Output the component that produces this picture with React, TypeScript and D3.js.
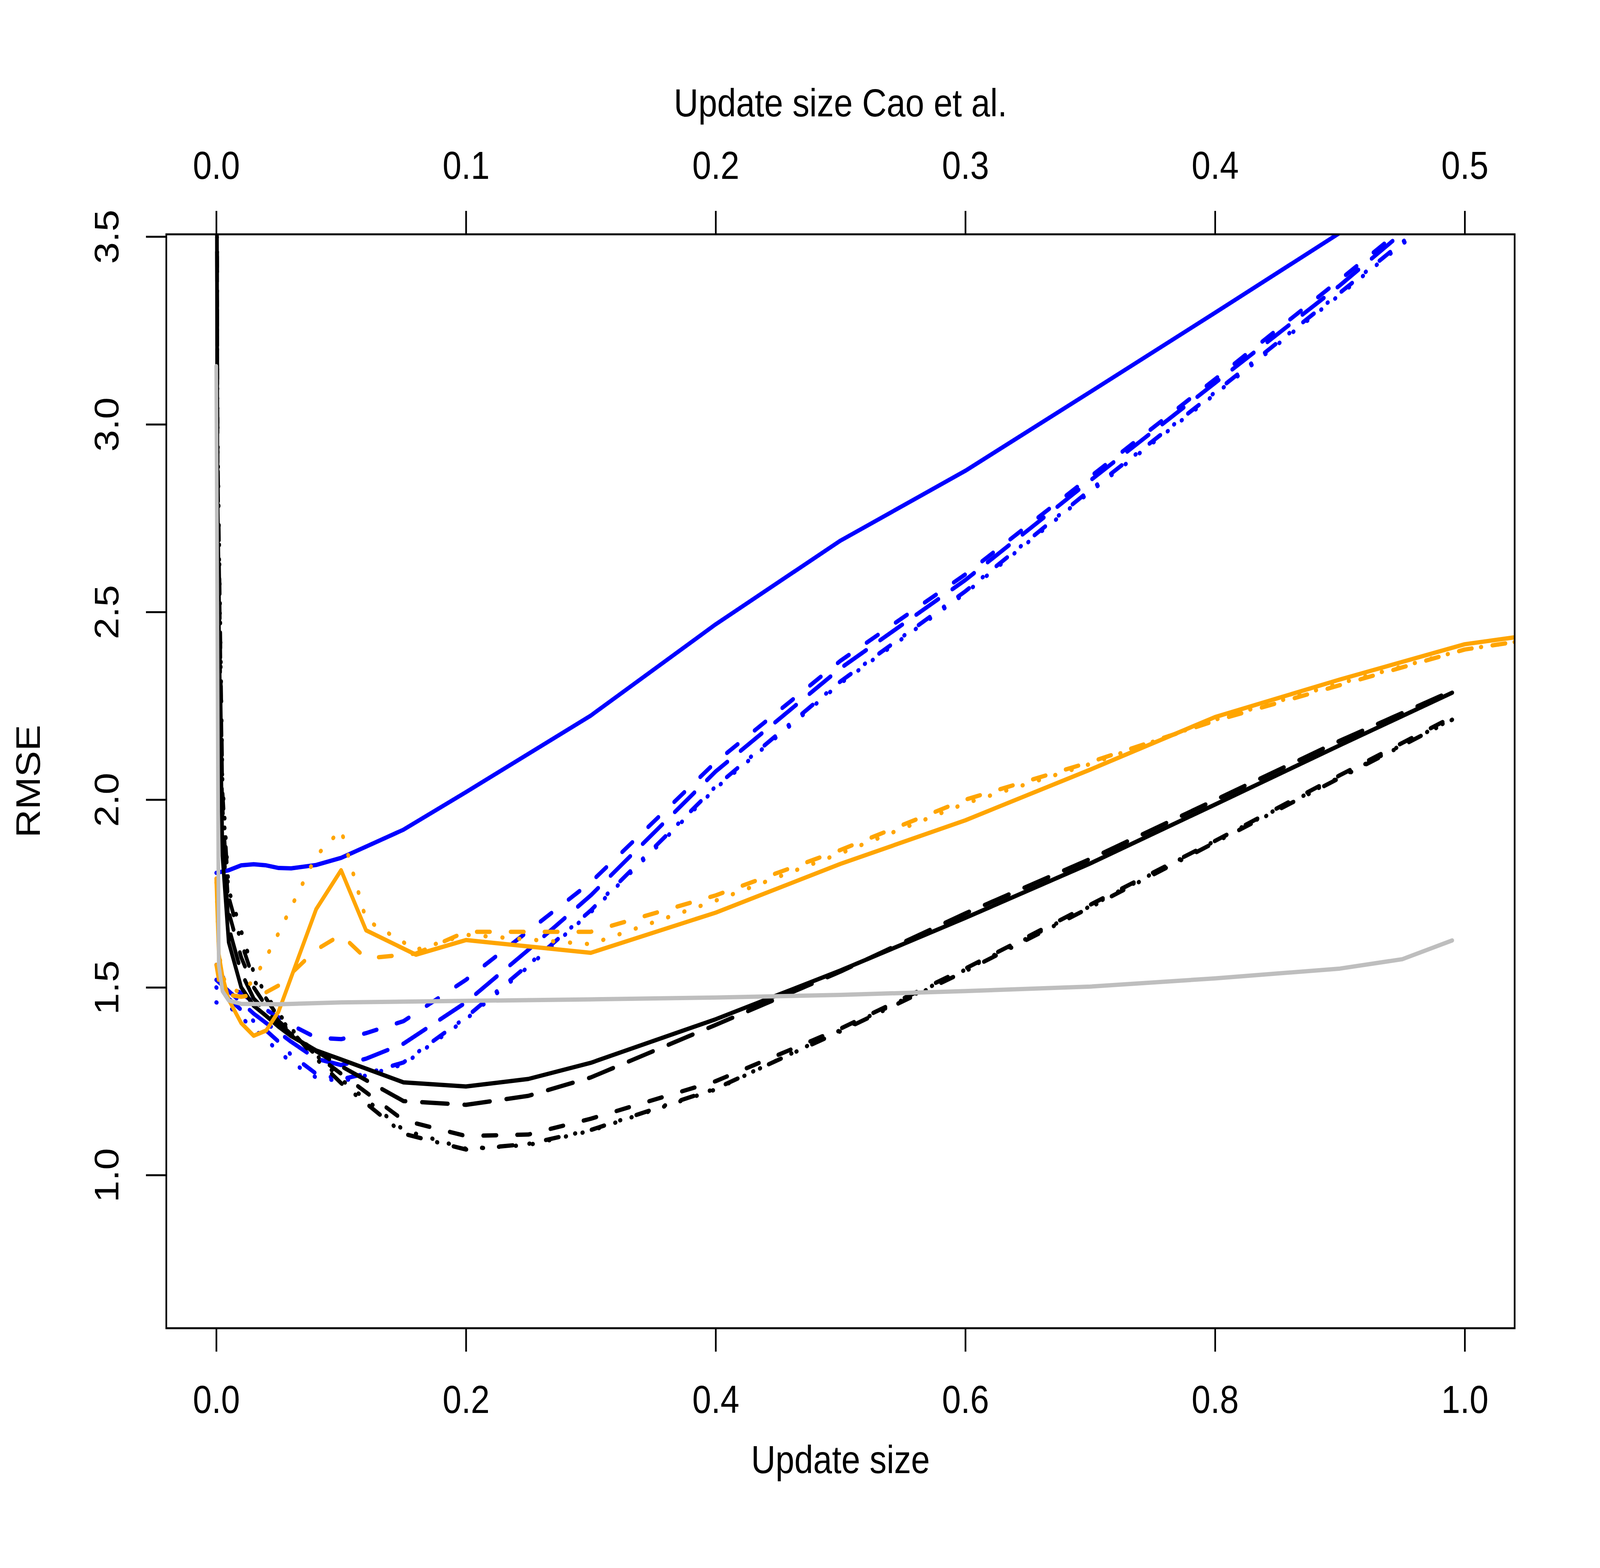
import { useEffect, useRef } from 'react'
import * as d3 from 'd3'

// update sizes (bottom axis) at which each family was evaluated
const xBlack = [0, 0.001, 0.005, 0.01, 0.02, 0.03, 0.04, 0.05, 0.06, 0.08, 0.1, 0.15, 0.2, 0.25, 0.3, 0.4, 0.5, 0.6, 0.7, 0.8, 0.9, 0.99]
const xBlue = [0, 0.01, 0.02, 0.03, 0.04, 0.05, 0.06, 0.08, 0.1, 0.12, 0.15, 0.2, 0.25, 0.3, 0.4, 0.5, 0.6, 0.7, 0.8, 0.9, 0.95, 0.99]
const xOrange = [0, 0.002, 0.005, 0.01, 0.02, 0.03, 0.04, 0.05, 0.08, 0.1, 0.12, 0.16, 0.2, 0.3, 0.4, 0.5, 0.6, 0.7, 0.8, 0.9, 1.0, 1.1]
const xGray = [0, 0.002, 0.005, 0.01, 0.02, 0.05, 0.1, 0.2, 0.3, 0.4, 0.5, 0.6, 0.7, 0.8, 0.9, 0.95, 0.99]

// RMSE values
const blackSolid = [4.5, 2.7, 1.85, 1.62, 1.5, 1.451, 1.424, 1.395, 1.37, 1.332, 1.308, 1.247, 1.236, 1.256, 1.299, 1.415, 1.545, 1.685, 1.83, 1.987, 2.145, 2.285]
const blackLongdash = [4.5, 2.8, 1.92, 1.66, 1.54, 1.47, 1.435, 1.405, 1.375, 1.33, 1.29, 1.197, 1.187, 1.211, 1.26, 1.4, 1.542, 1.697, 1.842, 1.999, 2.157, 2.29]
const blackDashed = [4.5, 2.9, 1.98, 1.7, 1.58, 1.5, 1.45, 1.41, 1.38, 1.32, 1.27, 1.146, 1.104, 1.108, 1.15, 1.25, 1.39, 1.55, 1.72, 1.89, 2.065, 2.22]
const blackDotted = [4.5, 3.0, 2.05, 1.76, 1.65, 1.54, 1.48, 1.43, 1.39, 1.32, 1.255, 1.12, 1.07, 1.08, 1.118, 1.228, 1.386, 1.547, 1.716, 1.89, 2.06, 2.215]
const blackDotdash = [4.5, 2.95, 2.02, 1.74, 1.62, 1.52, 1.47, 1.42, 1.385, 1.31, 1.245, 1.11, 1.068, 1.083, 1.12, 1.23, 1.383, 1.543, 1.713, 1.886, 2.058, 2.213]

const blueSolid = [1.805, 1.812, 1.825, 1.828, 1.825, 1.818, 1.817, 1.826, 1.845, 1.875, 1.92, 2.02, 2.122, 2.224, 2.467, 2.69, 2.876, 3.086, 3.297, 3.51, 3.62, 3.7]
const blueDashed = [1.56, 1.5, 1.485, 1.46, 1.44, 1.42, 1.4, 1.366, 1.362, 1.378, 1.41, 1.52, 1.65, 1.78, 2.1, 2.37, 2.6, 2.86, 3.12, 3.385, 3.52, 3.62]
const blueLongdash = [1.52, 1.49, 1.46, 1.43, 1.405, 1.38, 1.355, 1.31, 1.293, 1.31, 1.35, 1.46, 1.6, 1.745, 2.075, 2.35, 2.585, 2.85, 3.11, 3.37, 3.51, 3.61]
const blueDotted = [1.46, 1.45, 1.42, 1.39, 1.36, 1.33, 1.3, 1.26, 1.25, 1.265, 1.295, 1.415, 1.555, 1.7, 2.03, 2.31, 2.55, 2.82, 3.08, 3.345, 3.48, 3.58]
const blueDotdash = [1.5, 1.47, 1.44, 1.41, 1.385, 1.355, 1.32, 1.27, 1.255, 1.27, 1.3, 1.42, 1.56, 1.705, 2.035, 2.315, 2.555, 2.825, 3.085, 3.35, 3.485, 3.59]

const orangeSolid = [1.79, 1.59, 1.53, 1.467, 1.405, 1.371, 1.385, 1.436, 1.708, 1.812, 1.652, 1.587, 1.626, 1.592, 1.699, 1.829, 1.945, 2.08, 2.22, 2.32, 2.414, 2.46]
const orangeDashed = [1.56, 1.52, 1.5, 1.48, 1.475, 1.48, 1.487, 1.505, 1.6, 1.64, 1.577, 1.59, 1.648, 1.648, 1.745, 1.866, 2.0, 2.1, 2.21, 2.305, 2.4, 2.45]
const orangeDotted = [1.78, 1.6, 1.53, 1.5, 1.485, 1.52, 1.58, 1.645, 1.85, 1.92, 1.68, 1.6, 1.64, 1.615, 1.731, 1.857, 1.99, 2.095, 2.213, 2.31, 2.4, 2.45]

const graySolid = [3.155, 1.56, 1.49, 1.465, 1.456, 1.455, 1.46, 1.464, 1.468, 1.473, 1.48, 1.49, 1.502, 1.524, 1.55, 1.575, 1.625]

// axes
const bottomTicks = [0, 0.2, 0.4, 0.6, 0.8, 1.0]
const topTickLabels = ['0.0', '0.1', '0.2', '0.3', '0.4', '0.5']
const yTicks = [1.0, 1.5, 2.0, 2.5, 3.0, 3.5]

interface Series {
  xs: number[]
  ys: number[]
  color: string
  lty: number
}

// drawing order: blue, black, orange, gray on top
const series: Series[] = [
  { xs: xBlue, ys: blueSolid, color: '#0000ff', lty: 1 },
  { xs: xBlue, ys: blueDashed, color: '#0000ff', lty: 2 },
  { xs: xBlue, ys: blueLongdash, color: '#0000ff', lty: 5 },
  { xs: xBlue, ys: blueDotted, color: '#0000ff', lty: 3 },
  { xs: xBlue, ys: blueDotdash, color: '#0000ff', lty: 4 },
  { xs: xBlack, ys: blackSolid, color: '#000000', lty: 1 },
  { xs: xBlack, ys: blackLongdash, color: '#000000', lty: 5 },
  { xs: xBlack, ys: blackDashed, color: '#000000', lty: 2 },
  { xs: xBlack, ys: blackDotted, color: '#000000', lty: 3 },
  { xs: xBlack, ys: blackDotdash, color: '#000000', lty: 4 },
  { xs: xOrange, ys: orangeSolid, color: '#ffa500', lty: 1 },
  { xs: xOrange, ys: orangeDashed, color: '#ffa500', lty: 2 },
  { xs: xOrange, ys: orangeDotted, color: '#ffa500', lty: 3 },
  { xs: xGray, ys: graySolid, color: '#bebebe', lty: 1 },
]

const FONT = '"Liberation Sans", Arial, Helvetica, sans-serif'
const LW = 11
const UNIT = 12.5
const LTY: Record<number, number[]> = { 1: [], 2: [4, 4], 3: [1, 3], 4: [1, 3, 4, 3], 5: [7, 3] }

function dashArray(lty: number) {
  const p = LTY[lty]
  if (!p.length) return null
  // round caps add LW to every dash, so take it back from the dash
  return p.map((v, i) => (i % 2 === 0 ? Math.max(v * UNIT - LW, 0.01) : v * UNIT + LW)).join(' ')
}

export default function App() {
  const svgRef = useRef<SVGSVGElement>(null)

  useEffect(() => {
    if (!svgRef.current) return
    const width = 4724
    const height = 4015
    const svg = d3.select(svgRef.current)
    svg.selectAll('*').remove()
    // fill the window whatever its css size is
    svg.attr('viewBox', `0 0 ${width} ${height}`).attr('preserveAspectRatio', 'none')

    svg.append('rect').attr('width', width).attr('height', height).attr('fill', '#fff')

    const x = d3.scaleLinear().domain([-0.04, 1.04]).range([491, 4472])
    const y = d3.scaleLinear().domain([0.592, 3.506]).range([3401, 600])
    const [left, right] = x.range()
    const [bottom, top] = y.range()

    svg
      .append('defs')
      .append('clipPath')
      .attr('id', 'plot-clip')
      .append('rect')
      .attr('x', left)
      .attr('y', top)
      .attr('width', right - left)
      .attr('height', bottom - top)

    // data lines
    const plot = svg.append('g').attr('clip-path', 'url(#plot-clip)')
    const line = d3
      .line<[number, number]>()
      .x((d) => x(d[0]))
      .y((d) => y(d[1]))

    series.forEach((s) => {
      const pts = s.xs.map((v, i) => [v, s.ys[i]] as [number, number])
      plot
        .append('path')
        .datum(pts)
        .attr('d', line)
        .attr('fill', 'none')
        .attr('stroke', s.color)
        .attr('stroke-width', LW)
        .attr('stroke-linecap', 'round')
        .attr('stroke-linejoin', 'round')
        .attr('stroke-dasharray', dashArray(s.lty))
    })

    // box
    svg
      .append('rect')
      .attr('x', left)
      .attr('y', top)
      .attr('width', right - left)
      .attr('height', bottom - top)
      .attr('fill', 'none')
      .attr('stroke', '#000')
      .attr('stroke-width', 5)

    const styleAxis = (g: d3.Selection<SVGGElement, unknown, null, undefined>) => {
      g.select('.domain').remove()
      g.attr('font-family', FONT).attr('font-size', 100)
      g.selectAll('line').attr('stroke', '#000').attr('stroke-width', 5)
      g.selectAll('text').attr('fill', '#000')
    }

    // bottom axis
    svg
      .append('g')
      .attr('transform', `translate(0,${bottom})`)
      .call(d3.axisBottom(x).tickValues(bottomTicks).tickSize(60).tickPadding(86).tickFormat(d3.format('.1f')))
      .call(styleAxis)

    // top axis: Cao et al. update size is half of ours
    svg
      .append('g')
      .attr('transform', `translate(0,${top})`)
      .call(
        d3
          .axisTop(x)
          .tickValues(bottomTicks)
          .tickSize(60)
          .tickPadding(82)
          .tickFormat((_, i) => topTickLabels[i])
      )
      .call(styleAxis)

    // left axis, labels parallel to the axis
    const gy = svg
      .append('g')
      .attr('transform', `translate(${left},0)`)
      .call(d3.axisLeft(y).tickValues(yTicks).tickSize(60).tickFormat(d3.format('.1f')))
      .call(styleAxis)
    gy.selectAll('text')
      .attr('x', 0)
      .attr('dy', 0)
      .attr('text-anchor', 'middle')
      .attr('transform', 'translate(-141.5,0) rotate(-90)')

    // titles
    svg
      .append('text')
      .attr('x', (left + right) / 2)
      .attr('y', 3772)
      .attr('text-anchor', 'middle')
      .attr('font-family', FONT)
      .attr('font-size', 100)
      .text('Update size')

    svg
      .append('text')
      .attr('x', (left + right) / 2)
      .attr('y', 298)
      .attr('text-anchor', 'middle')
      .attr('font-family', FONT)
      .attr('font-size', 100)
      .text('Update size Cao et al.')

    svg
      .append('text')
      .attr('transform', `translate(118,${(top + bottom) / 2}) rotate(-90)`)
      .attr('text-anchor', 'middle')
      .attr('font-family', FONT)
      .attr('font-size', 100)
      .text('RMSE')
  }, [])

  return (
    <div style={{ position: 'fixed', left: 0, top: 0, width: '100vw', height: '100vh' }}>
      <svg ref={svgRef} style={{ display: 'block', width: '100vw', height: '100vh' }}></svg>
    </div>
  )
}
